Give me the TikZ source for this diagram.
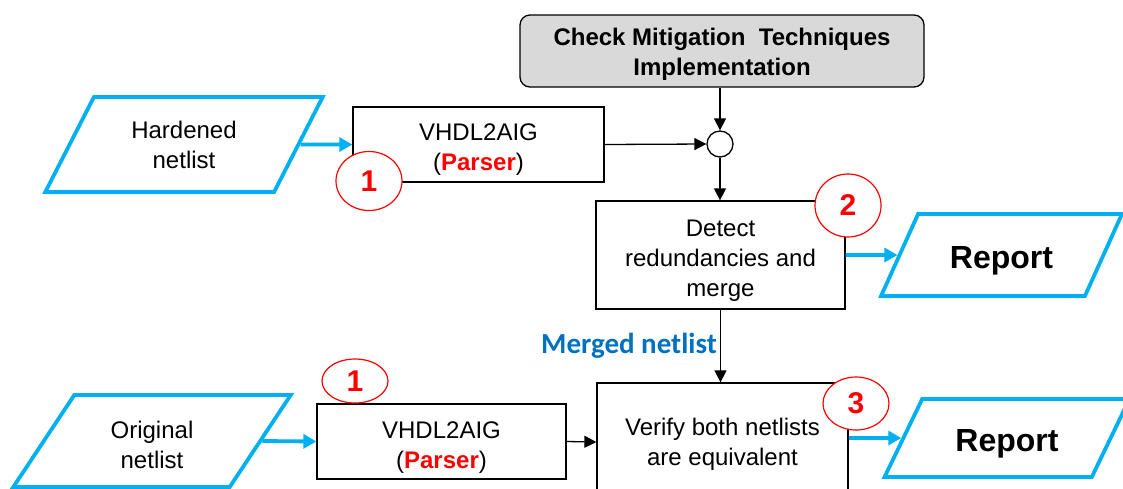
\documentclass[tikz,border=0pt]{standalone}
\usepackage{fontspec}
\setmainfont{Liberation Sans}
\newfontfamily\calibfont{Carlito}
\usetikzlibrary{arrows.meta,positioning,shapes.geometric}
\definecolor{flowcyan}{HTML}{00B0F0}
\definecolor{flowred}{HTML}{FF0000}
\definecolor{flowblue}{HTML}{0070C0}
\definecolor{checkgray}{HTML}{D9D9D9}
\newcommand\padtop[1]{\rule{0pt}{#1pt}}
\tikzset{
  body/.style={font=\fontsize{24}{30}\selectfont,align=center},
  procbox/.style={body,draw=black,fill=white,line width=1.3pt,inner sep=0pt},
  checkbox/.style={draw=black,fill=checkgray,rounded corners=10pt,line width=1.3pt,font=\bfseries\fontsize{24}{30}\selectfont,align=center,minimum width=404,minimum height=72},
  ionode/.style={body,trapezium,trapezium left angle=60,trapezium right angle=120,trapezium stretches=true,draw=flowcyan,line width=3.8pt,fill=white,inner sep=0pt},
  reporttext/.style={font=\bfseries\fontsize{32}{36}\selectfont},
  junction/.style={circle,draw=black,fill=white,line width=1.3pt,minimum size=26,inner sep=0pt},
  badge/.style={ellipse,draw=flowred,fill=white,line width=1.2pt,minimum width=66,inner sep=0pt,text=flowred,font=\bfseries\fontsize{30}{30}\selectfont},
  mergedlbl/.style={font=\calibfont\bfseries\fontsize{29}{30}\selectfont,text=flowblue,inner sep=0pt},
  blackarr/.style={-{Triangle[length=12pt,width=12pt]},draw=black,line width=1.3pt},
  cyanarr/.style={-{Triangle[length=13pt,width=14pt]},draw=flowcyan,line width=3.8pt}
}
\begin{document}
\begin{tikzpicture}[x=1pt,y=-1pt]
\path[use as bounding box] (0,0) rectangle (1123,488);
\clip (0,0) rectangle (1123,488);
% top row
\node[checkbox] (check) at (722,51) {\padtop{24}Check Mitigation\ \ Techniques\\Implementation};
\node[junction] (join) at (720,144) {};
\node[ionode,minimum width=278,minimum height=95] (hard) at (184,144.5) {\padtop{19}Hardened\\netlist};
\node[procbox,minimum width=251,minimum height=75] (parseA) at (478.5,144.5) {\padtop{26}VHDL2AIG\\(\textcolor{flowred}{\textbf{Parser}})};
\node[procbox,minimum width=249,minimum height=108] (detect) at (720.5,255) {\padtop{28}Detect\\redundancies and\\merge};
\node[ionode,reporttext,minimum width=241,minimum height=82] (repA) at (1001.5,255) {\padtop{33}Report};
\node[mergedlbl,anchor=base east] (mlabel) at (717,353) {Merged netlist};
% bottom row
\node[ionode,minimum width=278,minimum height=92] (orig) at (152,441) {\padtop{26}Original\\netlist};
\node[procbox,minimum width=249,minimum height=75] (parseB) at (441.5,441.5) {\padtop{29}VHDL2AIG\\(\textcolor{flowred}{\textbf{Parser}})};
\node[procbox,minimum width=251,minimum height=118] (verify) at (722.5,442) {\padtop{22}Verify both netlists\\are equivalent};
\node[ionode,reporttext,minimum width=245,minimum height=78] (repB) at (1007,438) {\padtop{33}Report};
% connectors
\draw[cyanarr] (hard.east) -- (parseA.west);
\draw[blackarr] (parseA.east) -- (join.west);
\draw[blackarr] (join.north |- check.south) -- (join.north);
\draw[blackarr] (join.south) -- (join.south |- detect.north);
\draw[cyanarr] (detect.east) -- (repA.west);
\draw[blackarr] (detect.south) -- (detect.south |- verify.north);
\draw[cyanarr] (orig.east) -- (parseB.west);
\draw[blackarr] (parseB.east) -- (verify.west);
\draw[cyanarr] (verify.east |- repB.west) -- (repB.west);
% step badges
\node[badge,minimum height=59] (stepA) at (369,181) {1};
\node[badge,minimum height=44] (stepB) at (355,381) {1};
\node[badge,minimum height=63] (stepC) at (848,205.5) {2};
\node[badge,minimum height=53] (stepD) at (856,403.5) {3};
\end{tikzpicture}
\end{document}
